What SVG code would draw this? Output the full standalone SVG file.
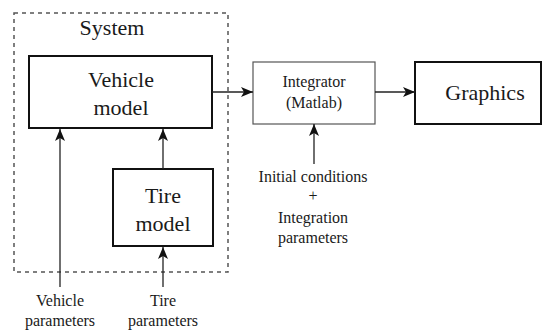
<svg xmlns="http://www.w3.org/2000/svg" width="543" height="330" viewBox="0 0 543 330">
<defs>
<marker id="ah" viewBox="0 0 12 10" refX="12" refY="5" markerWidth="12" markerHeight="10" markerUnits="userSpaceOnUse" orient="auto">
<path d="M0,0 L12,5 L0,10 L3,5 Z" fill="#111"/>
</marker>
<style>
.big{font-size:22px}
.sm{font-size:16px}
.box2{fill:#fff;stroke:#111;stroke-width:2}
.box1{fill:#fff;stroke:#555;stroke-width:1.2}
.con{stroke:#222;stroke-width:1.3;fill:none;marker-end:url(#ah)}
</style>
</defs>
<rect width="543" height="330" fill="#fff"/>
<g font-family="Liberation Serif, serif" fill="#1a1a1a" text-anchor="middle">
<g id="system">
<rect x="14" y="13" width="214" height="259" fill="none" stroke="#555" stroke-width="1.5" stroke-dasharray="4,4"/>
<text class="big" x="112" y="35">System</text>
</g>
<g id="vehicle-model">
<rect class="box2" x="29" y="56" width="183" height="72"/>
<text class="big" x="121" y="87">Vehicle</text>
<text class="big" x="121" y="115">model</text>
</g>
<g id="tire-model">
<rect class="box2" x="113" y="169" width="100" height="77"/>
<text class="big" x="163" y="203">Tire</text>
<text class="big" x="163" y="231">model</text>
</g>
<g id="integrator">
<rect class="box1" x="253" y="62" width="122" height="62"/>
<text class="sm" x="314" y="87">Integrator</text>
<text class="sm" x="314" y="108">(Matlab)</text>
</g>
<g id="graphics">
<rect class="box2" x="415" y="62" width="126" height="62"/>
<text class="big" x="485" y="100">Graphics</text>
</g>
<g id="vehicle-params">
<text class="sm" x="60" y="306">Vehicle</text>
<text class="sm" x="60" y="326">parameters</text>
</g>
<g id="tire-params">
<text class="sm" x="163" y="306">Tire</text>
<text class="sm" x="163" y="326">parameters</text>
</g>
<g id="init-cond">
<text class="sm" x="313" y="182">Initial conditions</text>
<text class="sm" x="313" y="201">+</text>
<text class="sm" x="313" y="223">Integration</text>
<text class="sm" x="313" y="243">parameters</text>
</g>
</g>
<g id="connectors">
<line class="con" x1="60" y1="287" x2="60" y2="129"/>
<line class="con" x1="163" y1="169" x2="163" y2="129"/>
<line class="con" x1="163" y1="287" x2="163" y2="247"/>
<line class="con" x1="212" y1="92" x2="253" y2="92"/>
<line class="con" x1="375" y1="92" x2="415" y2="92"/>
<line class="con" x1="314" y1="164" x2="314" y2="124"/>
</g>
</svg>
